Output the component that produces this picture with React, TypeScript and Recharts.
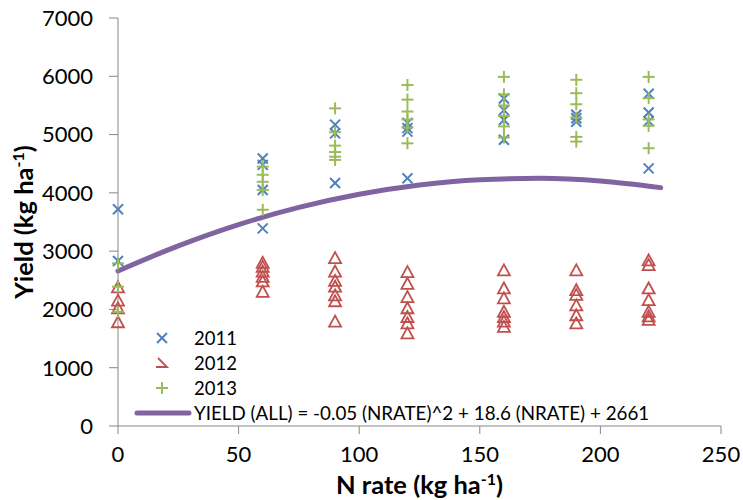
import { ComposedChart, Scatter, Line, XAxis, YAxis, Label } from "recharts"

// N rates (kg/ha) used in the trial
const nRates = [0, 60, 90, 120, 160, 190, 220]

// yields per N rate, one inner list per rate
const yield2011 = [
  [3720, 2830],
  [4590, 4480, 4050, 3390],
  [5170, 5020, 4170],
  [5200, 5110, 5050, 4250],
  [5620, 5420, 5250, 4910],
  [5340, 5280, 5220],
  [5700, 5380, 5230, 4420],
]
const yield2012 = [
  [2380, 2150, 2020, 1780],
  [2800, 2730, 2650, 2560, 2480, 2300],
  [2880, 2650, 2490, 2390, 2240, 2140, 1790],
  [2640, 2440, 2210, 2020, 1870, 1760, 1590],
  [2670, 2360, 2190, 1960, 1870, 1790, 1700],
  [2670, 2330, 2250, 2070, 1900, 1760],
  [2840, 2760, 2360, 2160, 1960, 1880, 1820],
]
const yield2013 = [
  [2790, 2390, 1960],
  [4450, 4310, 4190, 4050, 3710],
  [5450, 5040, 4810, 4700, 4620, 4565],
  [5850, 5600, 5395, 5260, 5120, 4850],
  [5990, 5690, 5500, 5320, 5140, 4950],
  [5940, 5710, 5520, 5290, 4960, 4880],
  [5990, 5625, 5260, 5150, 4766],
]

// fitted curve
const curveRates = [0, 25, 50, 75, 100, 125, 150, 175, 200, 225]
const curveYield = [2660, 3090, 3455, 3750, 3975, 4135, 4225, 4250, 4205, 4090]

const yTicks = [0, 1000, 2000, 3000, 4000, 5000, 6000, 7000]
const xTicks = [0, 50, 100, 150, 200, 250]

const BLUE = "#4F81BD"
const RED = "#C0504D"
const GREEN = "#9BBB59"
const PURPLE = "#8064A2"
const FONT = "Lato, 'Open Sans', sans-serif"

const toPoints = (rows: number[][]) =>
  rows.flatMap((vals, i) => vals.map((v) => ({ x: nRates[i], y: v })))

const data2011 = toPoints(yield2011)
const data2012 = toPoints(yield2012)
const data2013 = toPoints(yield2013)
const curveData = curveRates.map((x, i) => ({ x, y: curveYield[i] }))

const Cross = (p: any) => (
  <g stroke={BLUE} strokeWidth={2}>
    <line x1={p.cx - 5} y1={p.cy - 5} x2={p.cx + 5} y2={p.cy + 5} />
    <line x1={p.cx - 5} y1={p.cy + 5} x2={p.cx + 5} y2={p.cy - 5} />
  </g>
)

const Tri = (p: any) => (
  <polygon
    points={`${p.cx},${p.cy - 6} ${p.cx - 6},${p.cy + 5} ${p.cx + 6},${p.cy + 5}`}
    fill="none"
    stroke={RED}
    strokeWidth={1.8}
  />
)

const Plus = (p: any) => (
  <g stroke={GREEN} strokeWidth={2}>
    <line x1={p.cx - 6} y1={p.cy} x2={p.cx + 6} y2={p.cy} />
    <line x1={p.cx} y1={p.cy - 6} x2={p.cx} y2={p.cy + 6} />
  </g>
)

const legendRows = [
  { label: "2011", icon: <Cross cx={12} cy={12} /> },
  {
    label: "2012",
    icon: <path d="M8 7 L17 16 L6 16" fill="none" stroke={RED} strokeWidth={1.8} />,
  },
  { label: "2013", icon: <Plus cx={12} cy={12} /> },
]

const titleStyle = { fontFamily: FONT, fontWeight: "bold", fontSize: 25.5, fill: "#000" }

export default function App() {
  return (
    <div style={{ position: "absolute", left: 0, top: 0, width: 743, height: 500, background: "#fff" }}>
      <ComposedChart width={743} height={500} margin={{ top: 18, right: 22, left: 0, bottom: 0 }}>
        <XAxis
          type="number"
          dataKey="x"
          domain={[0, 250]}
          ticks={xTicks}
          interval={0}
          height={74}
          stroke="#868686"
          tickSize={8}
          tickMargin={12}
          tick={{ fill: "#000", fontSize: 22, fontFamily: FONT }}
        >
          <Label
            content={({ viewBox }: any) => (
              <text x={viewBox.x + viewBox.width / 2} y={494} textAnchor="middle" {...titleStyle}>
                N rate (kg ha<tspan dy={-9} fontSize={16}>-1</tspan>
                <tspan dy={9}>)</tspan>
              </text>
            )}
          />
        </XAxis>
        <YAxis
          type="number"
          dataKey="y"
          domain={[0, 7000]}
          ticks={yTicks}
          interval={0}
          width={118}
          stroke="#868686"
          tickSize={9}
          tickMargin={16}
          tick={{ fill: "#000", fontSize: 22, fontFamily: FONT }}
        >
          <Label
            content={({ viewBox }: any) => (
              <text
                transform={`translate(33, ${viewBox.y + viewBox.height / 2}) rotate(-90)`}
                textAnchor="middle"
                {...titleStyle}
              >
                Yield (kg ha<tspan dy={-9} fontSize={16}>-1</tspan>
                <tspan dy={9}>)</tspan>
              </text>
            )}
          />
        </YAxis>
        <Scatter data={data2011} shape={Cross} isAnimationActive={false} />
        <Scatter data={data2012} shape={Tri} isAnimationActive={false} />
        <Scatter data={data2013} shape={Plus} isAnimationActive={false} />
        <Line
          data={curveData}
          dataKey="y"
          type="monotone"
          stroke={PURPLE}
          strokeWidth={5}
          strokeLinecap="round"
          dot={false}
          isAnimationActive={false}
        />
      </ComposedChart>

      {legendRows.map((r, i) => (
        <div
          key={r.label}
          style={{ position: "absolute", left: 150, top: 325 + i * 25, height: 25, display: "flex", alignItems: "center" }}
        >
          <svg width={24} height={24}>{r.icon}</svg>
          <span style={{ marginLeft: 20, fontFamily: FONT, fontSize: 18.5, color: "#000" }}>{r.label}</span>
        </div>
      ))}
      <div style={{ position: "absolute", left: 134, top: 400, height: 25, display: "flex", alignItems: "center" }}>
        <svg width={58} height={24}>
          <line x1={3} y1={12} x2={55} y2={12} stroke={PURPLE} strokeWidth={5} strokeLinecap="round" />
        </svg>
        <span style={{ marginLeft: 2, fontFamily: FONT, fontSize: 18.8, color: "#000", whiteSpace: "nowrap" }}>
          YIELD (ALL) = -0.05 (NRATE)^2 + 18.6 (NRATE) + 2661
        </span>
      </div>
    </div>
  )
}
